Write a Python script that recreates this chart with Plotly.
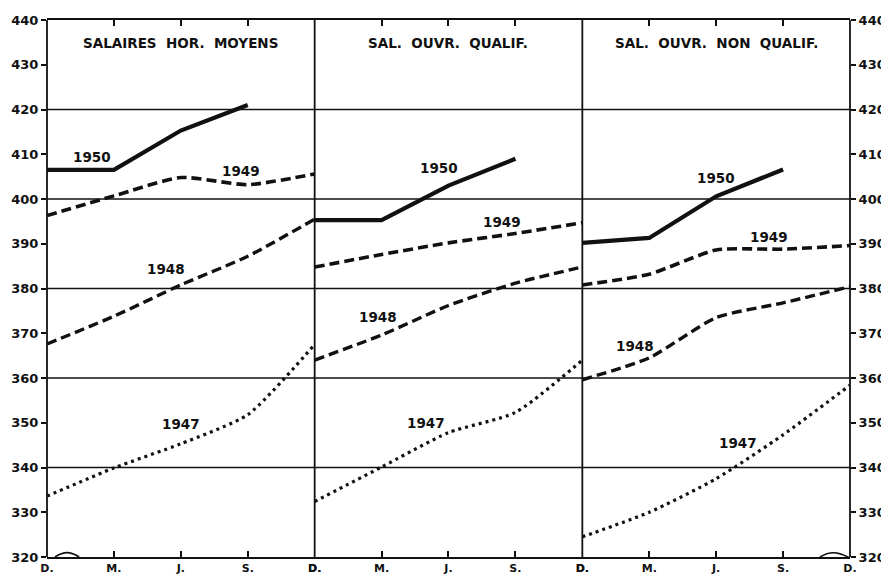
import plotly.graph_objects as go

MONTHS = ["D.", "M.", "J.", "S.", "D."]
X_IDX = [0, 1, 2, 3, 4]
PANELS = ["SALAIRES  HOR.  MOYENS", "SAL.  OUVR.  QUALIF.", "SAL.  OUVR.  NON  QUALIF."]
YEARS = ["1950", "1949", "1948", "1947"]

# Panel 1 : salaires horaires moyens
P1_1950 = [406.5, 406.5, 415.3, 421.0, None]
P1_1949 = [396.3, 400.7, 404.8, 403.2, 405.6]
P1_1948 = [367.6, 373.8, 380.8, 387.2, 395.5]
P1_1947 = [333.6, 339.9, 345.3, 351.8, 367.5]
# Panel 2 : ouvriers qualifiés
P2_1950 = [395.3, 395.3, 403.0, 409.0, None]
P2_1949 = [384.8, 387.6, 390.2, 392.3, 394.7]
P2_1948 = [364.0, 369.6, 376.2, 381.2, 384.8]
P2_1947 = [332.4, 340.1, 347.8, 352.3, 364.0]
# Panel 3 : ouvriers non qualifiés
P3_1950 = [390.2, 391.3, 400.6, 406.6, None]
P3_1949 = [380.8, 383.2, 388.6, 388.8, 389.6]
P3_1948 = [359.6, 364.5, 373.5, 376.8, 380.4]
P3_1947 = [324.5, 330.0, 337.5, 347.3, 358.4]

Y_TICKS = [320, 330, 340, 350, 360, 370, 380, 390, 400, 410, 420, 430, 440]
GRID_LINES = [340, 360, 380, 400, 420]

SERIES = [
    [P1_1950, P1_1949, P1_1948, P1_1947],
    [P2_1950, P2_1949, P2_1948, P2_1947],
    [P3_1950, P3_1949, P3_1948, P3_1947],
]

STYLE = {
    "1950": dict(width=4.2, dash="solid", shape="linear"),
    "1949": dict(width=3.6, dash="10px,5px", shape="spline"),
    "1948": dict(width=3.4, dash="10px,5px", shape="spline"),
    "1947": dict(width=3.2, dash="3px,4px", shape="spline"),
}

# label positions (x index, y value) per panel
LABEL_POS = [
    {"1950": (0.67, 409.4), "1949": (2.9, 406.2), "1948": (1.78, 384.4), "1947": (2.0, 349.7)},
    {"1950": (1.86, 406.9), "1949": (2.8, 394.9), "1948": (0.94, 373.6), "1947": (1.66, 350.0)},
    {"1950": (2.0, 404.7), "1949": (2.79, 391.5), "1948": (0.78, 367.2), "1947": (2.32, 345.5)},
]

FONT = "'DejaVu Sans', sans-serif"
INK = "#111111"

fig = go.Figure()
xrefs = ["x", "x2", "x3"]
for p in range(3):
    for yi, year in enumerate(YEARS):
        st = STYLE[year]
        fig.add_trace(go.Scatter(
            x=X_IDX, y=SERIES[p][yi], mode="lines",
            line=dict(color=INK, width=st["width"], dash=st["dash"], shape=st["shape"], smoothing=0.6),
            xaxis=xrefs[p], yaxis="y", showlegend=False, hoverinfo="skip",
            connectgaps=False,
        ))
# invisible trace to attach the right-hand axis
fig.add_trace(go.Scatter(x=[None], y=[None], xaxis="x3", yaxis="y2",
                         showlegend=False, hoverinfo="skip"))

annotations = []
for p in range(3):
    for year in YEARS:
        xx, yy = LABEL_POS[p][year]
        annotations.append(dict(x=xx, y=yy, xref=xrefs[p], yref="y", text=year,
                                showarrow=False, xanchor="center", yanchor="middle",
                                font=dict(family=FONT, size=13.5, color=INK, weight="bold")))
    annotations.append(dict(x=0.5, y=0.958, xref=("x" if p == 0 else f"x{p+1}") + " domain", yref="paper",
                            text=PANELS[p], showarrow=False, xanchor="center", yanchor="middle",
                            font=dict(family=FONT, size=13.5, color=INK, weight="bold")))

shapes = []
for g in GRID_LINES:
    shapes.append(dict(type="line", xref="paper", yref="y", x0=0, x1=1, y0=g, y1=g,
                       line=dict(color=INK, width=1.3), layer="below"))
for vx in [0, 1/3, 2/3, 1]:
    shapes.append(dict(type="line", xref="paper", yref="paper", x0=vx, x1=vx, y0=0, y1=1,
                       line=dict(color=INK, width=1.8)))
# small "break" waves drawn on the base line (decoration)
shapes.append(dict(type="path", xref="x", yref="y", path="M 0.12,320 C 0.25,321.3 0.35,321.3 0.48,320",
                   line=dict(color=INK, width=1.6)))
shapes.append(dict(type="path", xref="x3", yref="y", path="M 3.55,320 C 3.7,321.3 3.8,321.3 4.0,319.8",
                   line=dict(color=INK, width=1.6)))

xaxis_common = dict(
    range=[0, 4], tickmode="array", tickvals=X_IDX, ticktext=MONTHS,
    showgrid=False, zeroline=False, showline=True, mirror="ticks", linecolor=INK, linewidth=1.8,
    ticks="inside", ticklen=6, tickcolor=INK, tickwidth=1.5,
    tickfont=dict(family=FONT, size=11, color=INK, weight="bold"),
    anchor="y", fixedrange=True, automargin=False,
)
yaxis_common = dict(
    range=[320, 440], tickmode="array", tickvals=Y_TICKS,
    showgrid=False, zeroline=False, showline=False,
    ticks="outside", ticklen=5, tickcolor=INK, tickwidth=1.5,
    tickfont=dict(family=FONT, size=13, color=INK, weight="bold"),
    fixedrange=True, automargin=False,
)

# page body has an 8px margin: size the figure so the plot area lands where the reference has it
fig.update_layout(
    width=881, height=569,
    margin=dict(l=39, r=39, t=12, b=20),
    paper_bgcolor="white", plot_bgcolor="white",
    xaxis=dict(domain=[0, 1/3], **xaxis_common),
    xaxis2=dict(domain=[1/3, 2/3], **xaxis_common),
    xaxis3=dict(domain=[2/3, 1], **xaxis_common),
    yaxis=dict(anchor="x", side="left", **yaxis_common),
    yaxis2=dict(anchor="x3", overlaying="y", side="right", **yaxis_common),
    annotations=annotations,
    shapes=shapes,
)

fig.write_html("out.html")
